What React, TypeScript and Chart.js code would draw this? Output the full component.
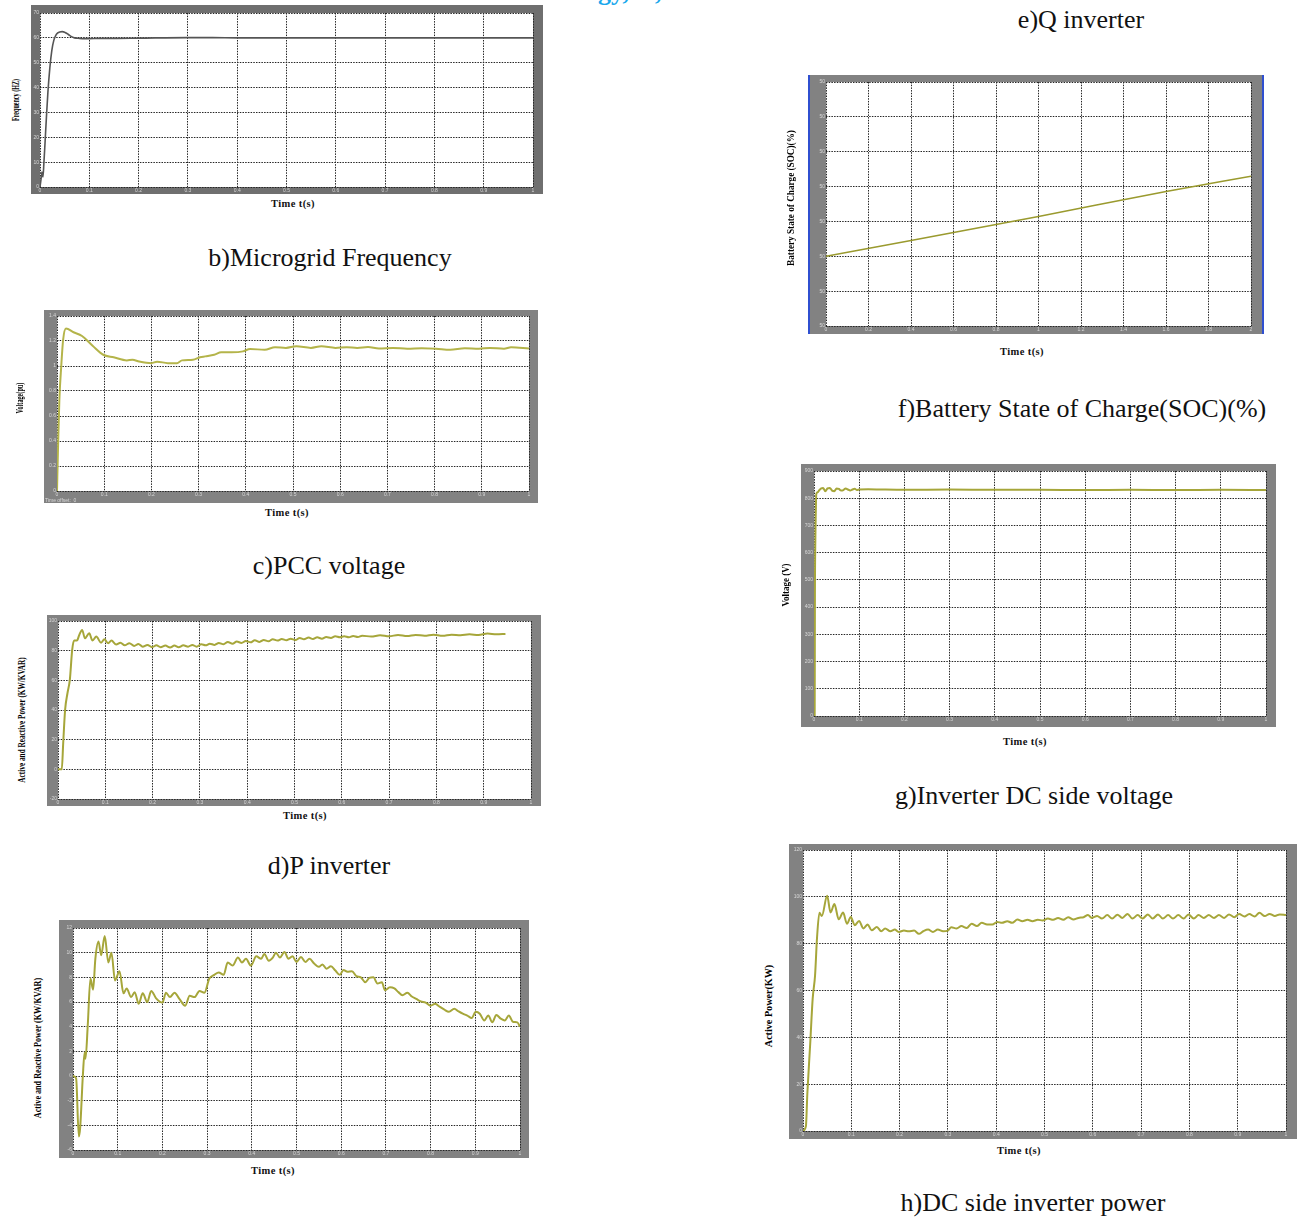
import React, { useEffect, useLayoutEffect, useRef } from "react";
import { Chart, registerables } from "chart.js";

Chart.register(...registerables);

// ---------- tick values / labels ----------
const time1Ticks = [0, 0.1, 0.2, 0.3, 0.4, 0.5, 0.6, 0.7, 0.8, 0.9, 1];
const time1Labels = ["0", "0.1", "0.2", "0.3", "0.4", "0.5", "0.6", "0.7", "0.8", "0.9", "1"];
const time2Ticks = [0, 0.2, 0.4, 0.6, 0.8, 1, 1.2, 1.4, 1.6, 1.8, 2];
const time2Labels = ["0", "0.2", "0.4", "0.6", "0.8", "1", "1.2", "1.4", "1.6", "1.8", "2"];

const freqTicks = [0, 10, 20, 30, 40, 50, 60, 70];
const freqLabels = ["0", "10", "20", "30", "40", "50", "60", "70"];
const pccTicks = [0, 0.2, 0.4, 0.6, 0.8, 1, 1.2, 1.4];
const pccLabels = ["0", "0.2", "0.4", "0.6", "0.8", "1", "1.2", "1.4"];
const pTicks = [-20, 0, 20, 40, 60, 80, 100];
const pLabels = ["-20", "0", "20", "40", "60", "80", "100"];
const qTicks = [-6, -4, -2, 0, 2, 4, 6, 8, 10, 12];
const qLabels = ["-6", "-4", "-2", "0", "2", "4", "6", "8", "10", "12"];
const socTicks = [49.996, 49.997, 49.998, 49.999, 50.0, 50.001, 50.002, 50.003];
const socLabels = ["50", "50", "50", "50", "50", "50", "50", "50"];
const dcTicks = [0, 100, 200, 300, 400, 500, 600, 700, 800, 900];
const dcLabels = ["0", "100", "200", "300", "400", "500", "600", "700", "800", "900"];
const powTicks = [0, 20, 40, 60, 80, 100, 120];
const powLabels = ["0", "20", "40", "60", "80", "100", "120"];

// ---------- series ----------
// b) Microgrid frequency (Hz)
const freqTime = [0, 0.002, 0.004, 0.006, 0.008, 0.01, 0.013, 0.016, 0.02, 0.024, 0.028, 0.032, 0.036, 0.04, 0.045, 0.05, 0.055, 0.06, 0.065, 0.07, 0.08, 0.09, 0.1, 0.12, 0.15, 0.2, 0.3, 0.35, 0.4, 0.5, 0.6, 0.7, 0.8, 0.9, 1.0];
const freqValue = [0, 3, 6, 4, 10, 17, 28, 38, 48, 55, 59, 61, 62, 62.4, 62.5, 62.3, 61.7, 61, 60.4, 60, 59.8, 59.7, 59.7, 59.8, 59.8, 59.9, 60.1, 60.1, 60, 60, 60, 60, 60, 60, 60];

// c) PCC voltage (pu)
const pccTime = [0, 0.002, 0.005, 0.009, 0.013, 0.019, 0.035, 0.053, 0.076, 0.098, 0.12, 0.148, 0.16, 0.174, 0.2, 0.212, 0.235, 0.254, 0.265, 0.288, 0.303, 0.314, 0.333, 0.348, 0.37, 0.394, 0.409, 0.44, 0.462, 0.485, 0.507, 0.538, 0.56, 0.59, 0.614, 0.636, 0.659, 0.682, 0.712, 0.742, 0.773, 0.803, 0.833, 0.864, 0.894, 0.917, 0.947, 0.962, 1.0];
const pccValue = [0, 0.32, 0.73, 1.0, 1.21, 1.3, 1.27, 1.24, 1.16, 1.09, 1.07, 1.045, 1.05, 1.036, 1.023, 1.035, 1.023, 1.023, 1.045, 1.05, 1.07, 1.077, 1.09, 1.11, 1.11, 1.117, 1.136, 1.13, 1.15, 1.145, 1.158, 1.145, 1.158, 1.145, 1.15, 1.145, 1.152, 1.14, 1.145, 1.138, 1.142, 1.138, 1.13, 1.142, 1.138, 1.145, 1.138, 1.15, 1.14];

// d) P inverter (kW)
const pTime = [0, 0.008, 0.011, 0.015, 0.02, 0.025, 0.03, 0.034, 0.04, 0.045,
  0.051, 0.057, 0.066, 0.073, 0.081, 0.091, 0.098, 0.106, 0.113, 0.123,
  0.132, 0.141, 0.151, 0.161, 0.17, 0.179, 0.189, 0.199, 0.208, 0.217,
  0.227, 0.237, 0.246, 0.255, 0.265, 0.275, 0.284, 0.293, 0.303, 0.312,
  0.321, 0.331, 0.34, 0.35, 0.359, 0.369, 0.378, 0.388, 0.397, 0.407,
  0.416, 0.426, 0.435, 0.445, 0.454, 0.464, 0.473, 0.483, 0.492, 0.502,
  0.511, 0.52, 0.53, 0.539, 0.548, 0.558, 0.567, 0.577, 0.586, 0.596,
  0.605, 0.615, 0.624, 0.634, 0.643, 0.662, 0.681, 0.7, 0.719, 0.738,
  0.756, 0.775, 0.794, 0.813, 0.832, 0.851, 0.87, 0.889, 0.908, 0.927,
  0.946];
const pValue = [0, 0, 17.7, 40, 51.3, 60.3, 80.5, 86.8, 86.8, 90.6,
  94, 88.3, 91.7, 86.8, 89.5, 85.4, 87.7, 85, 86.8, 84.1,
  85.4, 83.6, 85, 83.2, 84.5, 82.7, 83.9, 82.3, 83.6, 82.3,
  83.4, 82.1, 83.4, 82.3, 83.6, 82.7, 83.9, 82.7, 84.3, 83.6,
  84.7, 83.9, 85.2, 84.3, 85.9, 84.7, 86.1, 85.2, 86.5, 85.6,
  87, 85.9, 87.2, 86.3, 87.7, 86.8, 87.9, 87, 88.1, 87.2,
  88.6, 87.7, 88.8, 87.9, 89, 88.1, 89.2, 88.6, 89.7, 89,
  89.7, 89, 89.9, 89.2, 90.1, 89.5, 90.4, 89.7, 90.6, 89.9,
  90.6, 90.1, 90.8, 90.1, 90.8, 90.4, 91, 90.6, 91.5, 91,
  91.3];

// e) Q inverter (kVAR)
const qTime = [0, 0.007, 0.013, 0.016, 0.022, 0.026, 0.028, 0.033, 0.039, 0.045,
  0.05, 0.057, 0.063, 0.071, 0.079, 0.086, 0.094, 0.104, 0.113, 0.12,
  0.13, 0.138, 0.147, 0.156, 0.166, 0.175, 0.186, 0.2, 0.208, 0.217,
  0.227, 0.238, 0.251, 0.261, 0.272, 0.283, 0.294, 0.305, 0.316, 0.326,
  0.337, 0.346, 0.357, 0.369, 0.378, 0.387, 0.398, 0.41, 0.421, 0.428,
  0.438, 0.447, 0.454, 0.463, 0.473, 0.482, 0.491, 0.5, 0.51, 0.52,
  0.529, 0.54, 0.55, 0.558, 0.567, 0.577, 0.587, 0.597, 0.605, 0.614,
  0.624, 0.634, 0.644, 0.654, 0.663, 0.672, 0.681, 0.691, 0.698, 0.709,
  0.719, 0.728, 0.737, 0.748, 0.758, 0.768, 0.778, 0.789, 0.8, 0.81,
  0.821, 0.83, 0.841, 0.853, 0.862, 0.872, 0.882, 0.892, 0.901, 0.91,
  0.92, 0.929, 0.938, 0.947, 0.957, 0.966, 0.975, 0.984, 0.994, 1.0];
const qValue = [0, -0.2, -4.9, -4.2, 0, 1.9, 1.4, 4.1, 7.9, 7.0,
  9.5, 10.9, 9.8, 11.35, 9.2, 10, 7.75, 8.5, 6.7, 7.1,
  6.4, 6.8, 5.85, 6.7, 6.0, 6.9, 6.3, 5.95, 6.75, 6.4,
  6.75, 6.25, 5.7, 6.5, 6.4, 6.9, 6.75, 7.9, 8.2, 8.4,
  8.2, 9.2, 8.95, 9.6, 9.2, 9.5, 8.95, 9.7, 9.5, 9.9,
  9.35, 9.6, 10, 9.6, 10.05, 9.5, 9.7, 9.25, 9.65, 9.25,
  9.5, 9.1, 8.85, 9.05, 8.7, 8.9, 8.55, 8.2, 8.6, 8.45,
  8.5, 8.1, 8.0, 7.6, 7.95, 8.0, 7.5, 7.6, 6.95, 7.2,
  7.1, 6.8, 6.55, 6.75, 6.45, 6.25, 6.05, 5.95, 5.7, 5.85,
  5.6, 5.4, 5.2, 5.45, 5.25, 5.05, 4.9, 4.7, 5.2, 5.05,
  4.5, 4.9, 4.35, 4.95, 4.65, 4.5, 4.9, 4.4, 4.35, 4.0];

// f) Battery SOC (%)
const socTime = [0, 0.4, 1.0, 1.6, 2.0];
const socValue = [49.998, 49.99845, 49.99914, 49.99986, 50.0003];

// g) Inverter DC side voltage (V)
const dcTime = [0, 0.0015, 0.002, 0.003, 0.004, 0.005, 0.008, 0.012, 0.016, 0.02, 0.025, 0.03, 0.035, 0.04, 0.045, 0.05, 0.055, 0.06, 0.065, 0.07, 0.075, 0.08, 0.085, 0.09, 0.095, 0.1, 0.12, 0.15, 0.2, 0.3, 0.4, 0.5, 0.6, 0.7, 0.8, 0.9, 1.0];
const dcValue = [0, 0, 430, 650, 750, 815, 822, 830, 836, 838, 826, 836, 838, 828, 826, 836, 834, 828, 830, 836, 832, 828, 832, 835, 830, 832, 833, 832, 831, 832, 831, 831, 830, 831, 830, 831, 830];

// h) DC side inverter power (kW)
const powTime = [0, 0.006, 0.009, 0.015, 0.02, 0.025, 0.029, 0.034, 0.039, 0.05,
  0.057, 0.065, 0.074, 0.083, 0.091, 0.099, 0.107, 0.116, 0.125, 0.134,
  0.142, 0.153, 0.162, 0.17, 0.181, 0.19, 0.198, 0.209, 0.219, 0.23,
  0.24, 0.249, 0.259, 0.269, 0.279, 0.29, 0.3, 0.307, 0.318, 0.328,
  0.339, 0.349, 0.36, 0.37, 0.381, 0.392, 0.402, 0.412, 0.423, 0.433,
  0.444, 0.454, 0.465, 0.475, 0.486, 0.496, 0.507, 0.518, 0.528, 0.539,
  0.549, 0.56, 0.57, 0.581, 0.59, 0.598, 0.609, 0.619, 0.63, 0.64,
  0.651, 0.661, 0.672, 0.682, 0.693, 0.703, 0.714, 0.724, 0.735, 0.745,
  0.756, 0.766, 0.777, 0.788, 0.798, 0.809, 0.819, 0.83, 0.84, 0.851,
  0.861, 0.872, 0.882, 0.893, 0.903, 0.914, 0.924, 0.935, 0.945, 0.956,
  0.966, 0.977, 0.987, 1.0];
const powValue = [0, 2, 16, 37.6, 56.4, 66.5, 82.4, 93.2, 91.8, 100.5,
  93.3, 96.9, 90.4, 93.3, 88.5, 91.4, 87.9, 89.7, 86.5, 88.2,
  85.7, 87.1, 85.3, 86.5, 85.3, 86.0, 85.0, 85.6, 85.3, 85.6,
  84.2, 85.3, 86, 85, 86, 85.3, 85.6, 87, 86.5, 87.5,
  86.7, 88.5, 87.5, 88.9, 88.2, 88.2, 89.3, 88.9, 89.6, 88.9,
  90.3, 89.6, 90.2, 89.6, 90.2, 89.9, 90.7, 90.2, 91, 90.2,
  91.3, 90.3, 91, 91.3, 92.2, 91, 91.8, 90.7, 92.2, 90.7,
  92.4, 91, 92.7, 90.7, 92.2, 90.7, 92.5, 90.7, 92.5, 90.7,
  92.2, 90.7, 92.2, 90.7, 92.5, 90.7, 92.2, 91, 92.2, 91,
  92.2, 91, 92.5, 91.3, 92.7, 91.6, 92.7, 91.6, 93.2, 91.8,
  92.7, 91.8, 92.5, 92.2];

// ---------- components ----------
type Box = { l: number; t: number; r: number; b: number };

const bgPlugin = {
  id: "scopeBg",
  beforeDraw(chart: any, _args: any, opts: any) {
    const { ctx, chartArea: a, width, height } = chart;
    ctx.save();
    ctx.fillStyle = opts.frame || "#808080";
    ctx.fillRect(0, 0, width, height);
    ctx.fillStyle = "#ffffff";
    ctx.fillRect(a.left, a.top, a.right - a.left, a.bottom - a.top);
    ctx.restore();
  },
};

type ScopeProps = {
  frame: Box;
  inner: Box;
  xTicks: number[];
  xLabels: string[];
  yTicks: number[];
  yLabels: string[];
  xs: number[];
  ys: number[];
  color: string;
  lineWidth?: number;
  frameColor?: string;
};

function Scope(p: ScopeProps) {
  const ref = useRef<HTMLCanvasElement>(null);
  const w = p.frame.r - p.frame.l;
  const h = p.frame.b - p.frame.t;
  useEffect(() => {
    const tickFont = { size: 5, family: "Arial, 'Liberation Sans', sans-serif" };
    const gridCfg = { color: "#262626", lineWidth: 1, drawTicks: false, tickLength: 0 };
    const borderCfg = { display: false, dash: [1.5, 1.2] };
    const chart = new Chart(ref.current as HTMLCanvasElement, {
      type: "line",
      data: {
        datasets: [
          {
            data: p.xs.map((x, i) => ({ x, y: p.ys[i] })),
            borderColor: p.color,
            borderWidth: p.lineWidth ?? 2,
            pointRadius: 0,
            fill: false,
            cubicInterpolationMode: "monotone",
          },
        ],
      },
      options: {
        animation: false,
        responsive: false,
        devicePixelRatio: 1,
        events: [],
        layout: {
          padding: { left: 0, bottom: 0, top: p.inner.t - p.frame.t, right: p.frame.r - p.inner.r },
        },
        plugins: {
          legend: { display: false },
          tooltip: { enabled: false },
          scopeBg: { frame: p.frameColor || "#828282" },
        } as any,
        scales: {
          x: {
            type: "linear",
            min: p.xTicks[0],
            max: p.xTicks[p.xTicks.length - 1],
            afterFit: (s: any) => { s.height = p.frame.b - p.inner.b; },
            afterBuildTicks: (s: any) => { s.ticks = p.xTicks.map((v) => ({ value: v })); },
            ticks: {
              callback: (_v: any, i: number) => p.xLabels[i],
              font: tickFont,
              color: "#d8d8d8",
              padding: 1,
              maxRotation: 0,
              autoSkip: false,
            },
            grid: gridCfg,
            border: borderCfg,
          },
          y: {
            type: "linear",
            min: p.yTicks[0],
            max: p.yTicks[p.yTicks.length - 1],
            afterFit: (s: any) => { s.width = p.inner.l - p.frame.l; },
            afterBuildTicks: (s: any) => { s.ticks = p.yTicks.map((v) => ({ value: v })); },
            ticks: {
              callback: (_v: any, i: number) => p.yLabels[i],
              font: tickFont,
              color: "#d8d8d8",
              padding: 1,
              autoSkip: false,
            },
            grid: gridCfg,
            border: borderCfg,
          },
        } as any,
      },
      plugins: [bgPlugin as any],
    });
    return () => chart.destroy();
  }, []);
  return (
    <canvas
      ref={ref}
      width={w}
      height={h}
      style={{ position: "absolute", left: p.frame.l, top: p.frame.t, width: w, height: h }}
    />
  );
}

const serif = "'Liberation Serif', 'Times New Roman', serif";

function Caption({ text, cx, cy }: { text: string; cx: number; cy: number }) {
  return (
    <div
      style={{
        position: "absolute",
        left: cx,
        top: cy,
        transform: "translate(-50%, -50%)",
        whiteSpace: "nowrap",
        fontFamily: serif,
        fontSize: 26,
        lineHeight: 1,
        color: "#111",
      }}
    >
      {text}
    </div>
  );
}

function XTitle({ cx, cy }: { cx: number; cy: number }) {
  return (
    <div
      style={{
        position: "absolute",
        left: cx,
        top: cy,
        transform: "translate(-50%, -50%)",
        whiteSpace: "nowrap",
        fontFamily: serif,
        fontWeight: "bold",
        fontSize: 10.5,
        letterSpacing: 0.4,
        lineHeight: 1,
        color: "#111",
      }}
    >
      Time t(s)
    </div>
  );
}

function YTitle({ text, cx, cy, len, size }: { text: string; cx: number; cy: number; len: number; size: number }) {
  const ref = useRef<HTMLDivElement>(null);
  useLayoutEffect(() => {
    const el = ref.current;
    if (!el) return;
    const k = len / el.offsetWidth;
    el.style.transform = `translate(-50%, -50%) rotate(-90deg) scaleX(${k})`;
  }, []);
  return (
    <div
      ref={ref}
      style={{
        position: "absolute",
        left: cx,
        top: cy,
        transform: "translate(-50%, -50%) rotate(-90deg)",
        whiteSpace: "nowrap",
        fontFamily: serif,
        fontWeight: "bold",
        fontSize: size,
        lineHeight: 1,
        color: "#000",
      }}
    >
      {text}
    </div>
  );
}

const olive = "#a6a63a";

export default function App() {
  return (
    <div
      style={{
        position: "absolute",
        left: 0,
        top: 0,
        width: 1299,
        height: 1226,
        overflow: "hidden",
        background: "#fff",
      }}
    >
      {/* clipped heading fragment at the very top */}
      <div
        style={{
          position: "absolute",
          left: 598,
          top: -21,
          fontFamily: serif,
          fontWeight: "bold",
          fontSize: 26,
          color: "#1aa8ec",
          whiteSpace: "nowrap",
          lineHeight: 1,
        }}
      >
        gy, &nbsp;&nbsp;&nbsp;,
      </div>

      {/* b) Microgrid Frequency */}
      <Scope
        frame={{ l: 31, t: 5, r: 543, b: 194 }}
        inner={{ l: 40, t: 13, r: 533, b: 187 }}
        xTicks={time1Ticks}
        xLabels={time1Labels}
        yTicks={freqTicks}
        yLabels={freqLabels}
        xs={freqTime}
        ys={freqValue}
        color="#555555"
        lineWidth={1.6}
        frameColor="#6f6f6f"
      />
      <YTitle text="Frequency (HZ)" cx={16} cy={100} len={42} size={10} />
      <XTitle cx={293} cy={204} />
      <Caption text="b)Microgrid Frequency" cx={330} cy={258} />

      {/* e) caption at top right */}
      <Caption text="e)Q inverter" cx={1081} cy={20} />

      {/* f) Battery SOC */}
      <Scope
        frame={{ l: 808, t: 75, r: 1264, b: 334 }}
        inner={{ l: 826, t: 82, r: 1251, b: 326 }}
        xTicks={time2Ticks}
        xLabels={time2Labels}
        yTicks={socTicks}
        yLabels={socLabels}
        xs={socTime}
        ys={socValue}
        color="#9a9a2e"
        lineWidth={1.5}
      />
      <div style={{ position: "absolute", left: 808, top: 75, width: 2, height: 259, background: "#2f4fd0" }} />
      <div style={{ position: "absolute", left: 1262, top: 75, width: 2, height: 259, background: "#2f4fd0" }} />
      <YTitle text="Battery State of Charge (SOC)(%)" cx={791} cy={198} len={136} size={10} />
      <XTitle cx={1022} cy={352} />
      <Caption text="f)Battery State of Charge(SOC)(%)" cx={1082} cy={409} />

      {/* c) PCC voltage */}
      <Scope
        frame={{ l: 44, t: 310, r: 538, b: 503 }}
        inner={{ l: 57, t: 316, r: 529, b: 491 }}
        xTicks={time1Ticks}
        xLabels={time1Labels}
        yTicks={pccTicks}
        yLabels={pccLabels}
        xs={pccTime}
        ys={pccValue}
        color="#b4b44a"
      />
      <div
        style={{
          position: "absolute",
          left: 45,
          top: 497,
          fontFamily: "Arial, sans-serif",
          fontSize: 5,
          color: "#d8d8d8",
          whiteSpace: "nowrap",
        }}
      >
        Time offset:&nbsp;&nbsp;0
      </div>
      <YTitle text="Voltage(pu)" cx={20} cy={398} len={31} size={10} />
      <XTitle cx={287} cy={513} />
      <Caption text="c)PCC voltage" cx={329} cy={566} />

      {/* d) P inverter */}
      <Scope
        frame={{ l: 47, t: 615, r: 541, b: 806 }}
        inner={{ l: 58, t: 621, r: 531, b: 799 }}
        xTicks={time1Ticks}
        xLabels={time1Labels}
        yTicks={pTicks}
        yLabels={pLabels}
        xs={pTime}
        ys={pValue}
        color={olive}
      />
      <YTitle text="Active and Reactive Power (KW/KVAR)" cx={22} cy={720} len={125} size={10} />
      <XTitle cx={305} cy={816} />
      <Caption text="d)P inverter" cx={329} cy={866} />

      {/* e) Q inverter plot */}
      <Scope
        frame={{ l: 59, t: 920, r: 529, b: 1158 }}
        inner={{ l: 73, t: 928, r: 520, b: 1150 }}
        xTicks={time1Ticks}
        xLabels={time1Labels}
        yTicks={qTicks}
        yLabels={qLabels}
        xs={qTime}
        ys={qValue}
        color={olive}
      />
      <YTitle text="Active and Reactive Power (KW/KVAR)" cx={38} cy={1048} len={140} size={10} />
      <XTitle cx={273} cy={1171} />

      {/* g) Inverter DC side voltage */}
      <Scope
        frame={{ l: 801, t: 464, r: 1276, b: 727 }}
        inner={{ l: 814, t: 471, r: 1266, b: 716 }}
        xTicks={time1Ticks}
        xLabels={time1Labels}
        yTicks={dcTicks}
        yLabels={dcLabels}
        xs={dcTime}
        ys={dcValue}
        color={olive}
      />
      <YTitle text="Voltage (V)" cx={786} cy={585} len={43} size={10} />
      <XTitle cx={1025} cy={742} />
      <Caption text="g)Inverter DC side voltage" cx={1034} cy={796} />

      {/* h) DC side inverter power */}
      <Scope
        frame={{ l: 789, t: 844, r: 1297, b: 1139 }}
        inner={{ l: 803, t: 850, r: 1286, b: 1131 }}
        xTicks={time1Ticks}
        xLabels={time1Labels}
        yTicks={powTicks}
        yLabels={powLabels}
        xs={powTime}
        ys={powValue}
        color={olive}
      />
      <YTitle text="Active Power(KW)" cx={769} cy={1006} len={82} size={10} />
      <XTitle cx={1019} cy={1151} />
      <Caption text="h)DC side inverter power" cx={1033} cy={1203} />
    </div>
  );
}
